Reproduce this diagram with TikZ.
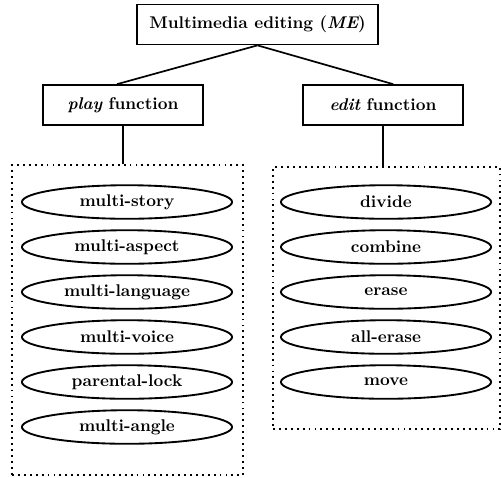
\documentclass[tikz,border=0pt]{standalone}
\usepackage{tikz}
\usetikzlibrary{shapes.geometric}

\newcommand{\emname}[1]{{\itshape #1}}

\tikzset{
  funcbox/.style={draw, line width=1pt, inner sep=0pt, minimum height=23.6pt, font=\bfseries},
  opell/.style={draw, ellipse, line width=1.1pt, inner sep=0pt, minimum width=124pt, minimum height=19.8pt, font=\bfseries},
  groupbox/.style={draw, line width=1.1pt, dash pattern=on 1.1pt off 2.4pt, inner sep=0pt},
  link/.style={line width=1pt}
}

\begin{document}
\begin{tikzpicture}[x=0.59pt, y=-0.59pt]
                \useasboundingbox (0,0) rectangle (501,477);
                \node[funcbox, minimum width=142.2pt] (top) at (257.5,24.5) {Multimedia editing (\emname{ME})};
                \node[funcbox, minimum width=94.4pt] (play) at (123,105) {\emname{play} function};
                \node[funcbox, minimum width=94.4pt] (edit) at (383,105) {\emname{edit} function};
                \node[groupbox, minimum width=136.3pt, minimum height=182.9pt] (playgrp) at (127.5,320) {};
                \node[groupbox, minimum width=133.9pt, minimum height=154.6pt] (editgrp) at (386.5,298) {};
                \draw[link] (top.south) -- ([xshift=-3.5pt]play.north);
                \draw[link] (top.south) -- ([xshift=6pt]edit.north);
                \draw[link] (play.south) -- (playgrp.north -| play.south);
                \draw[link] (edit.south) -- (editgrp.north -| edit.south);
                \foreach \name/\y in {multi-story/202, multi-aspect/247, multi-language/292,
                                      multi-voice/337, parental-lock/382, multi-angle/427}
                  \node[opell] (\name) at (127,\y) {\name};
                \foreach \name/\y in {divide/202, combine/247, erase/292, all-erase/337, move/382}
                  \node[opell] (\name) at (386,\y) {\name};
            \end{tikzpicture}
\end{document}
